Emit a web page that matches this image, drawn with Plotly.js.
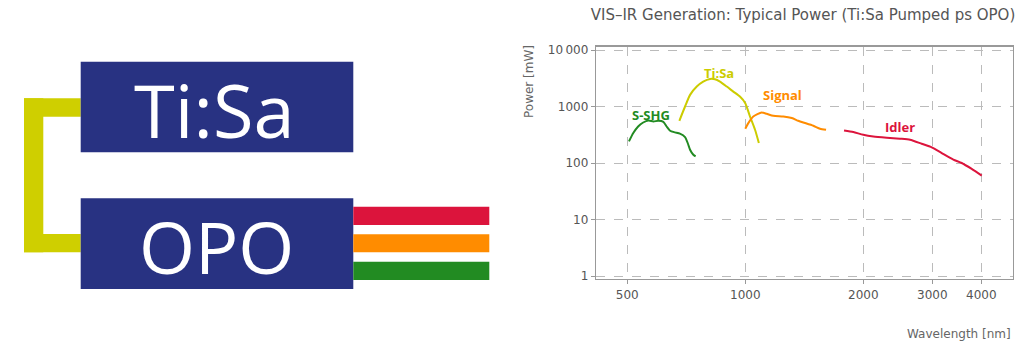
<!DOCTYPE html>
<html>
<head>
<meta charset="utf-8">
<script src="https://cdn.plot.ly/plotly-3.0.1.min.js"></script>
<style>html,body{margin:0;padding:0;background:#fff;}#chart{width:1024px;height:351px;}</style>
</head>
<body>
<div id="chart"></div>
<script>
// ---- data (wavelength nm, power mW) ----
const sshgWavelength = [505, 518, 533, 549, 566, 583, 600, 618, 630, 643, 662, 681, 702, 713, 723, 737, 747];
const sshgPower      = [241, 339, 443, 521, 565, 543, 559, 536, 443, 372, 348, 330, 288, 226, 172, 140, 131];

const tisaWavelength = [679, 702, 723, 752, 781, 813, 837, 862, 897, 932, 969, 1000, 1028, 1059, 1083];
const tisaPower      = [559, 1000, 1607, 2254, 2760, 3076, 3040, 2760, 2254, 1836, 1500, 1146, 666, 387, 226];

const signalWavelength = [1000, 1018, 1048, 1101, 1134, 1179, 1250, 1314, 1365, 1406, 1491, 1551, 1607];
const signalPower      = [404, 508, 666, 783, 743, 684, 666, 624, 559, 521, 456, 404, 387];

const idlerWavelength = [1786, 1886, 2000, 2121, 2295, 2481, 2632, 2818, 2990, 3170, 3394, 3565, 3781, 4010];
const idlerPower      = [377, 353, 316, 295, 280, 269, 258, 219, 189, 150, 115, 100, 78.5, 59.8];

const seriesNames = ["S-SHG", "Ti:Sa", "Signal", "Idler"];
const seriesColors = ["#228b22", "#cccc00", "#ff8c00", "#dc143c"];
const labelPos = [[575, 720], [855, 3960], [1247, 1600], [2480, 440]]; // label anchor (nm, mW)

const xTickVals = [500, 1000, 2000, 3000, 4000];
const xTickText = ["500", "1000", "2000", "3000", "4000"];
const yTickVals = [1, 10, 100, 1000, 10000];
const yTickText = ["1", "10", "100", "1000", "10\u2009000"];

const diagramLabels = ["Ti:Sa", "OPO"];

// ---- helpers for the pixel-placed diagram ----
const W = 1024, H = 351;
const px = x => x / W;
const py = y => 1 - y / H;
function rect(x0, y0, x1, y1, color) {
  return {type: "rect", xref: "paper", yref: "paper", x0: px(x0), x1: px(x1), y0: py(y1), y1: py(y0),
          fillcolor: color, line: {width: 0}, layer: "above"};
}

const xs = [sshgWavelength, tisaWavelength, signalWavelength, idlerWavelength];
const ys = [sshgPower, tisaPower, signalPower, idlerPower];
const traces = xs.map((x, i) => ({
  x: x, y: ys[i], type: "scatter", mode: "lines", name: seriesNames[i],
  line: {color: seriesColors[i], width: 2, shape: "spline", smoothing: 0.6},
  hoverinfo: "x+y+name"
}));

const navy = "#283282";
const shapes = [
  rect(24, 98.3, 80.7, 116.7, "#cfcf00"),
  rect(24, 98.3, 43.3, 252.3, "#cfcf00"),
  rect(24, 234, 80.7, 252.3, "#cfcf00"),
  rect(80.7, 61.7, 353.3, 152.3, navy),
  rect(80.7, 198.3, 353.3, 289, navy),
  rect(353.3, 206.7, 489.3, 225, "#dc143c"),
  rect(353.3, 234.3, 489.3, 252.3, "#ff8c00"),
  rect(353.3, 261.7, 489.3, 280, "#228b22")
];

const annotations = [
  {text: diagramLabels[0], xref: "paper", yref: "paper", x: px(214), y: py(110), xanchor: "center", yanchor: "middle",
   showarrow: false, font: {family: "Open Sans", size: 74, color: "#ffffff"}},
  {text: diagramLabels[1], xref: "paper", yref: "paper", x: px(216.7), y: py(246), xanchor: "center", yanchor: "middle",
   showarrow: false, font: {family: "Open Sans", size: 72, color: "#ffffff"}},
  {text: "Power [mW]", xref: "paper", yref: "paper", x: px(529), y: py(82), xanchor: "center", yanchor: "middle",
   textangle: -90, showarrow: false, font: {family: "DejaVu Sans", size: 12, color: "#666"}},
  {text: "Wavelength [nm]", xref: "paper", yref: "paper", x: px(1013), y: py(334), xanchor: "right", yanchor: "middle",
   showarrow: false, font: {family: "DejaVu Sans", size: 12, color: "#666"}}
];
labelPos.forEach((p, i) => {
  annotations.push({text: "<b>" + seriesNames[i] + "</b>", x: Math.log10(p[0]), y: Math.log10(p[1]),
    xref: "x", yref: "y", showarrow: false, xanchor: "center", yanchor: "middle",
    font: {family: "Open Sans", size: 13, color: seriesColors[i]}});
});

const axisCommon = {
  type: "log", showgrid: true, gridcolor: "#bbbbbb", griddash: "dash", gridwidth: 1,
  showline: true, linecolor: "#999999", linewidth: 1.2, mirror: true,
  ticks: "outside", ticklen: 4, tickcolor: "#999999", zeroline: false,
  tickfont: {family: "DejaVu Sans", size: 12, color: "#555"}, tickmode: "array"
};

const layout = {
  width: W, height: H, margin: {l: 0, r: 0, t: 0, b: 0}, paper_bgcolor: "#fff", plot_bgcolor: "#fff",
  showlegend: false,
  title: {text: "VIS\u2013IR Generation: Typical Power (Ti:Sa Pumped ps OPO)", x: 803 / W, xanchor: "center",
          y: py(15), yanchor: "middle", font: {family: "DejaVu Sans", size: 15, color: "#555"}},
  xaxis: Object.assign({}, axisCommon, {domain: [596 / W, 1013 / W], range: [2.6192, 3.6829],
          tickvals: xTickVals, ticktext: xTickText}),
  yaxis: Object.assign({}, axisCommon, {domain: [py(279), py(46.5)], range: [-0.053, 4.062],
          tickvals: yTickVals, ticktext: yTickText}),
  shapes: shapes, annotations: annotations
};

Plotly.newPlot("chart", traces, layout, {staticPlot: true, displayModeBar: false});
</script>
</body>
</html>
